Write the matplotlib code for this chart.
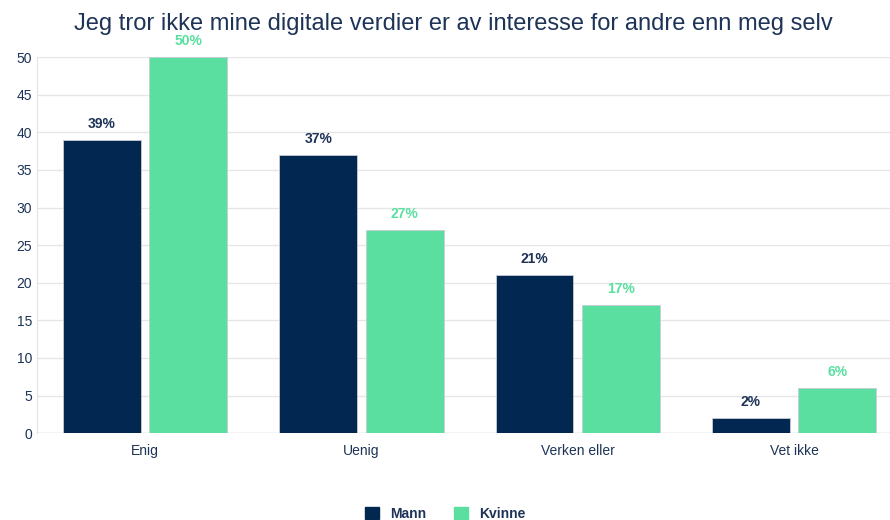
import numpy as np
import matplotlib.pyplot as plt
from matplotlib.patches import Patch

categories = ['Enig', 'Uenig', 'Verken eller', 'Vet ikke']
mann = [39, 37, 21, 2]
kvinne = [50, 27, 17, 6]
y_ticks = [0, 5, 10, 15, 20, 25, 30, 35, 40, 45, 50]

navy = '#022851'
green = '#5adfa0'
text_col = '#1d3357'

plt.rcParams['font.family'] = ['Liberation Sans', 'DejaVu Sans']

fig = plt.figure(figsize=(8.9, 5.2), dpi=100)
# plot area runs a little past the right edge, like the reference crop
ax = fig.add_axes([0.0416, 0.167, 0.972, 0.723])

x = np.arange(len(categories))
w = 0.36
b1 = ax.bar(x - 0.2, mann, w, color=navy, edgecolor='#c8ccd4', linewidth=0.6, zorder=3)
b2 = ax.bar(x + 0.2, kvinne, w, color=green, edgecolor='#c8ccd4', linewidth=0.6, zorder=3)

for rect, v in zip(b1, mann):
    ax.text(rect.get_x() + rect.get_width() / 2, v + 1.2, f'{v}%', ha='center', va='bottom',
            fontsize=10, fontweight='bold', color=text_col)
for rect, v in zip(b2, kvinne):
    ax.text(rect.get_x() + rect.get_width() / 2, v + 1.2, f'{v}%', ha='center', va='bottom',
            fontsize=10, fontweight='bold', color=green)

ax.set_xlim(-0.5, len(categories) - 0.5)
ax.set_ylim(0, 50)
ax.set_yticks(y_ticks)
ax.set_xticks(x)
ax.set_xticklabels(categories)
ax.tick_params(axis='both', which='both', length=0, labelsize=10, colors=text_col)
ax.tick_params(axis='x', pad=8)
ax.grid(axis='y', color='#e6e6e6', linewidth=1, zorder=0)
for s in ax.spines.values():
    s.set_visible(False)
ax.spines['left'].set_visible(True)
ax.spines['left'].set_color('#e3e3e3')
ax.axhline(0, color='#d9d9d9', linewidth=1, zorder=2)

fig.suptitle('Jeg tror ikke mine digitale verdier er av interesse for andre enn meg selv',
             x=0.509, y=0.975, fontsize=17, color=text_col)

handles = [Patch(color=navy, label='Mann'), Patch(color=green, label='Kvinne')]
leg = fig.legend(handles=handles, loc='lower center', bbox_to_anchor=(0.5, -0.025), ncol=2,
                 frameon=False, handlelength=1.0, handleheight=1.0, columnspacing=2.0,
                 prop={'weight': 'bold', 'size': 10})
for t in leg.get_texts():
    t.set_color(text_col)

fig.savefig('out.png', dpi=100)
